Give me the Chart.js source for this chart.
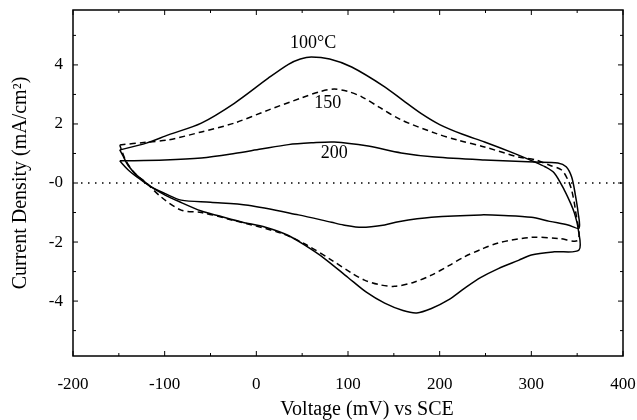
<!DOCTYPE html>
<html>
<head>
<meta charset="utf-8">
<script src="https://cdn.jsdelivr.net/npm/chart.js@4"></script>
<style>
  html, body { margin: 0; padding: 0; background: #fff; }
  #wrap { width: 637px; height: 420px; }
</style>
</head>
<body>
<div id="wrap"><canvas id="grafico" width="637" height="420"></canvas></div>
<script>
// voltage (mV) and current density (mA/cm2), one loop per temperature
var v100 = [-149, -120, -96, -60, -24, 13, 35, 48, 60, 80, 104, 140, 160, 180, 200, 225, 249, 280, 303, 315, 325, 336, 343, 347, 351, 352,
            325, 300, 286, 264, 245, 227, 210, 191, 175, 160, 140, 120, 100, 74, 55, 35, 10, -16, -40, -60, -85, -100, -115, -130, -140, -146, -149];
var i100 = [1.12, 1.35, 1.63, 2.03, 2.7, 3.55, 4.02, 4.2, 4.27, 4.2, 3.93, 3.26, 2.8, 2.35, 1.98, 1.65, 1.39, 1.02, 0.72, 0.55, 0.34, -0.24, -0.7, -1.02, -1.53, -2.27,
            -2.33, -2.44, -2.62, -2.9, -3.2, -3.57, -3.95, -4.25, -4.4, -4.32, -4.07, -3.7, -3.2, -2.55, -2.15, -1.78, -1.5, -1.32, -1.12, -0.95, -0.62, -0.4, -0.12, 0.25, 0.6, 0.95, 1.12];

var v150 = [-149, -120, -96, -60, -24, 13, 49, 70, 85, 100, 115, 135, 158, 195, 220, 249, 286, 305, 320, 333, 340, 344, 348, 351,
            330, 300, 264, 245, 227, 210, 191, 172, 151, 135, 118, 104, 82, 55, 27, -27, -60, -82, -104, -120, -133, -143, -149];
var i150 = [1.29, 1.38, 1.46, 1.73, 2.03, 2.47, 2.88, 3.1, 3.18, 3.1, 2.92, 2.55, 2.14, 1.69, 1.45, 1.22, 0.88, 0.78, 0.6, 0.44, 0.1, -0.24, -0.9, -1.93,
            -1.88, -1.84, -2.03, -2.25, -2.5, -2.8, -3.12, -3.36, -3.5, -3.45, -3.29, -3.05, -2.61, -2.1, -1.7, -1.25, -1.0, -0.92, -0.47, 0.0, 0.34, 0.8, 1.29];

var v200 = [-149, -100, -60, -24, 5, 35, 60, 85, 122, 158, 195, 249, 303, 329, 338, 344, 348, 351, 352,
            340, 320, 300, 270, 245, 191, 155, 140, 115, 95, 82, 46, -9, -50, -82, -100, -115, -130, -140, -149];
var i200 = [0.75, 0.78, 0.85, 1.0, 1.15, 1.3, 1.36, 1.39, 1.25, 1.02, 0.88, 0.78, 0.71, 0.68, 0.55, 0.2, -0.4, -1.0, -1.53,
            -1.42, -1.3, -1.16, -1.1, -1.08, -1.16, -1.31, -1.42, -1.5, -1.42, -1.33, -1.08, -0.75, -0.65, -0.58, -0.35, -0.13, 0.2, 0.45, 0.75];

var curveLabels = ['100\u00B0C', '150', '200'];
var labelX = [62, 78, 85];
var labelY = [4.75, 2.71, 1.02];

var xTicks = [-200, -100, 0, 100, 200, 300, 400];
var yTicks = [-4, -2, 0, 2, 4];
var yTickLabels = ['-4', '-2', '-0', '2', '4'];
var xTitle = 'Voltage (mV) vs SCE';

function puntos(xs, ys) {
    return xs.map(function (x, k) { return { x: x, y: ys[k] }; });
}

var serif = 'Liberation Serif';

// frame, inward ticks, dotted zero line, x title and the curve labels
var marco = {
    id: 'marco',
    beforeDatasetsDraw: function (chart) {
        var c = chart.ctx, a = chart.chartArea, sy = chart.scales.y;
        var y0 = sy.getPixelForValue(0);
        c.save();
        c.strokeStyle = '#000';
        c.lineWidth = 1.5;
        c.setLineDash([1.5, 5.5]);
        c.beginPath();
        c.moveTo(a.left + 8, y0);
        c.lineTo(a.right, y0);
        c.stroke();
        c.restore();
    },
    afterDraw: function (chart) {
        var c = chart.ctx, a = chart.chartArea, sx = chart.scales.x, sy = chart.scales.y;
        c.save();
        c.strokeStyle = '#000';
        c.lineWidth = 1.5;
        c.strokeRect(a.left, a.top, a.right - a.left, a.bottom - a.top);
        c.lineWidth = 1;
        c.beginPath();
        for (var v = -200; v <= 400; v += 50) {
            var px = sx.getPixelForValue(v);
            var len = (v % 100 === 0) ? 5 : 3;
            c.moveTo(px, a.bottom); c.lineTo(px, a.bottom - len);
            c.moveTo(px, a.top); c.lineTo(px, a.top + len);
        }
        for (var w = -5; w <= 5; w += 1) {
            var py = sy.getPixelForValue(w);
            var l2 = (w % 2 === 0) ? 5 : 3;
            c.moveTo(a.left, py); c.lineTo(a.left + l2, py);
            c.moveTo(a.right, py); c.lineTo(a.right - l2, py);
        }
        c.stroke();
        c.fillStyle = '#000';
        c.textAlign = 'center';
        c.textBaseline = 'middle';
        c.font = '18px "' + serif + '"';
        for (var k = 0; k < curveLabels.length; k++) {
            c.fillText(curveLabels[k], sx.getPixelForValue(labelX[k]), sy.getPixelForValue(labelY[k]));
        }
        c.font = '20px "' + serif + '"';
        c.fillText(xTitle, (a.left + a.right) / 2 + 19, a.bottom + 54);
        c.restore();
    }
};

var ctx = document.getElementById('grafico').getContext('2d');
var grafico = new Chart(ctx, {
    type: 'scatter',
    data: {
        datasets: [
            { label: '100', data: puntos(v100, i100), borderDash: [] },
            { label: '150', data: puntos(v150, i150), borderDash: [6, 4] },
            { label: '200', data: puntos(v200, i200), borderDash: [] }
        ].map(function (d) {
            d.showLine = true;
            d.borderColor = '#000';
            d.borderWidth = 1.5;
            d.pointRadius = 0;
            d.tension = 0.3;
            d.fill = false;
            return d;
        })
    },
    options: {
        responsive: false,
        animation: false,
        layout: { padding: { top: 10, right: 14, left: 0, bottom: 0 } },
        plugins: {
            legend: { display: false },
            tooltip: { enabled: false }
        },
        scales: {
            x: {
                type: 'linear',
                min: -200,
                max: 400,
                afterBuildTicks: function (s) { s.ticks = xTicks.map(function (v) { return { value: v }; }); },
                afterFit: function (s) { s.height = 64; s.paddingLeft = 0; s.paddingRight = 0; },
                grid: { display: false, drawTicks: false },
                border: { display: false },
                ticks: { padding: 18, color: '#000', font: { family: serif, size: 17 } },
                title: { display: false }
            },
            y: {
                type: 'linear',
                min: -5.86,
                max: 5.86,
                afterBuildTicks: function (s) { s.ticks = yTicks.map(function (v) { return { value: v }; }); },
                afterFit: function (s) { s.width = 73; s.paddingTop = 0; s.paddingBottom = 0; },
                grid: { display: false, drawTicks: false },
                border: { display: false },
                ticks: {
                    padding: 10, color: '#000', font: { family: serif, size: 17 },
                    callback: function (v) { return yTickLabels[yTicks.indexOf(v)]; }
                },
                title: { display: true, text: 'Current Density (mA/cm\u00B2)', color: '#000',
                         font: { family: serif, size: 20 }, padding: { top: 9, bottom: 0 } }
            }
        }
    },
    plugins: [marco]
});
</script>
</body>
</html>
